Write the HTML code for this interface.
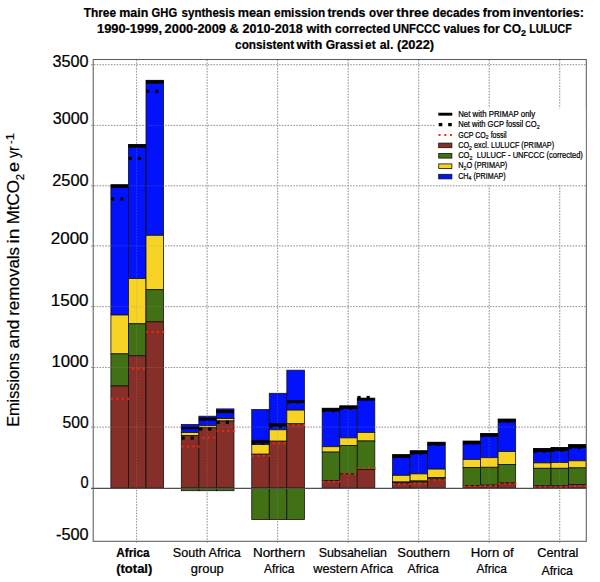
<!DOCTYPE html>
<html><head><meta charset="utf-8"><title>GHG chart</title>
<style>
html,body{margin:0;padding:0;background:#fff;}
body{width:600px;height:582px;position:relative;overflow:hidden;font-family:"Liberation Sans",sans-serif;}
svg{position:absolute;left:0;top:0;}
</style></head><body>
<svg width="600" height="582" viewBox="0 0 600 582">
<rect x="0" y="0" width="600" height="582" fill="#ffffff"/>
<line x1="91" y1="64.7" x2="586.3" y2="64.7" stroke="#979797" stroke-width="1" stroke-dasharray="1.5 1.35"/>
<line x1="91" y1="125.4" x2="586.3" y2="125.4" stroke="#979797" stroke-width="1" stroke-dasharray="1.5 1.35"/>
<line x1="91" y1="185.8" x2="586.3" y2="185.8" stroke="#979797" stroke-width="1" stroke-dasharray="1.5 1.35"/>
<line x1="91" y1="245.9" x2="586.3" y2="245.9" stroke="#979797" stroke-width="1" stroke-dasharray="1.5 1.35"/>
<line x1="91" y1="306.6" x2="586.3" y2="306.6" stroke="#979797" stroke-width="1" stroke-dasharray="1.5 1.35"/>
<line x1="91" y1="367.5" x2="586.3" y2="367.5" stroke="#979797" stroke-width="1" stroke-dasharray="1.5 1.35"/>
<line x1="91" y1="427.1" x2="586.3" y2="427.1" stroke="#979797" stroke-width="1" stroke-dasharray="1.5 1.35"/>
<line x1="136.6" y1="59.5" x2="136.6" y2="543" stroke="#979797" stroke-width="1" stroke-dasharray="1.5 1.35"/>
<line x1="207.12" y1="59.5" x2="207.12" y2="543" stroke="#979797" stroke-width="1" stroke-dasharray="1.5 1.35"/>
<line x1="277.64" y1="59.5" x2="277.64" y2="543" stroke="#979797" stroke-width="1" stroke-dasharray="1.5 1.35"/>
<line x1="348.16" y1="59.5" x2="348.16" y2="543" stroke="#979797" stroke-width="1" stroke-dasharray="1.5 1.35"/>
<line x1="418.68" y1="59.5" x2="418.68" y2="543" stroke="#979797" stroke-width="1" stroke-dasharray="1.5 1.35"/>
<line x1="489.2" y1="59.5" x2="489.2" y2="543" stroke="#979797" stroke-width="1" stroke-dasharray="1.5 1.35"/>
<line x1="559.72" y1="59.5" x2="559.72" y2="543" stroke="#979797" stroke-width="1" stroke-dasharray="1.5 1.35"/>
<rect x="110.9" y="184.7" width="17.55" height="130.3" fill="#0213fb" stroke="#111" stroke-width="0.8"/>
<rect x="110.9" y="315" width="17.55" height="38.9" fill="#f6d324" stroke="#111" stroke-width="0.8"/>
<rect x="110.9" y="353.9" width="17.55" height="32.1" fill="#417114" stroke="#111" stroke-width="0.8"/>
<rect x="110.9" y="386" width="17.55" height="102" fill="#862f29" stroke="#111" stroke-width="0.8"/>
<rect x="128.45" y="144.4" width="17.55" height="134.2" fill="#0213fb" stroke="#111" stroke-width="0.8"/>
<rect x="128.45" y="278.6" width="17.55" height="45.2" fill="#f6d324" stroke="#111" stroke-width="0.8"/>
<rect x="128.45" y="323.8" width="17.55" height="32" fill="#417114" stroke="#111" stroke-width="0.8"/>
<rect x="128.45" y="355.8" width="17.55" height="132.2" fill="#862f29" stroke="#111" stroke-width="0.8"/>
<rect x="146" y="80.3" width="17.55" height="155" fill="#0213fb" stroke="#111" stroke-width="0.8"/>
<rect x="146" y="235.3" width="17.55" height="54.4" fill="#f6d324" stroke="#111" stroke-width="0.8"/>
<rect x="146" y="289.7" width="17.55" height="32.2" fill="#417114" stroke="#111" stroke-width="0.8"/>
<rect x="146" y="321.9" width="17.55" height="166.1" fill="#862f29" stroke="#111" stroke-width="0.8"/>
<rect x="181.32" y="424.5" width="17.55" height="8.1" fill="#0213fb" stroke="#111" stroke-width="0.8"/>
<rect x="181.32" y="432.6" width="17.55" height="2.9" fill="#f6d324" stroke="#111" stroke-width="0.8"/>
<rect x="181.32" y="435.5" width="17.55" height="52.5" fill="#862f29" stroke="#111" stroke-width="0.8"/>
<rect x="181.32" y="488" width="17.55" height="2.7" fill="#417114" stroke="#111" stroke-width="0.8"/>
<rect x="198.87" y="416.2" width="17.55" height="9.5" fill="#0213fb" stroke="#111" stroke-width="0.8"/>
<rect x="198.87" y="425.7" width="17.55" height="2.1" fill="#f6d324" stroke="#111" stroke-width="0.8"/>
<rect x="198.87" y="427.8" width="17.55" height="60.2" fill="#862f29" stroke="#111" stroke-width="0.8"/>
<rect x="198.87" y="488" width="17.55" height="2.7" fill="#417114" stroke="#111" stroke-width="0.8"/>
<rect x="216.42" y="408.9" width="17.55" height="9.7" fill="#0213fb" stroke="#111" stroke-width="0.8"/>
<rect x="216.42" y="418.6" width="17.55" height="2.4" fill="#f6d324" stroke="#111" stroke-width="0.8"/>
<rect x="216.42" y="421" width="17.55" height="67" fill="#862f29" stroke="#111" stroke-width="0.8"/>
<rect x="216.42" y="488" width="17.55" height="2.7" fill="#417114" stroke="#111" stroke-width="0.8"/>
<rect x="251.74" y="409.5" width="17.55" height="35.1" fill="#0213fb" stroke="#111" stroke-width="0.8"/>
<rect x="251.74" y="444.6" width="17.55" height="9.6" fill="#f6d324" stroke="#111" stroke-width="0.8"/>
<rect x="251.74" y="454.2" width="17.55" height="33.8" fill="#862f29" stroke="#111" stroke-width="0.8"/>
<rect x="251.74" y="488" width="17.55" height="31.5" fill="#417114" stroke="#111" stroke-width="0.8"/>
<rect x="269.29" y="393.3" width="17.55" height="36.5" fill="#0213fb" stroke="#111" stroke-width="0.8"/>
<rect x="269.29" y="429.8" width="17.55" height="11.4" fill="#f6d324" stroke="#111" stroke-width="0.8"/>
<rect x="269.29" y="441.2" width="17.55" height="46.8" fill="#862f29" stroke="#111" stroke-width="0.8"/>
<rect x="269.29" y="488" width="17.55" height="31.5" fill="#417114" stroke="#111" stroke-width="0.8"/>
<rect x="286.84" y="370.2" width="17.55" height="39.9" fill="#0213fb" stroke="#111" stroke-width="0.8"/>
<rect x="286.84" y="410.1" width="17.55" height="13.7" fill="#f6d324" stroke="#111" stroke-width="0.8"/>
<rect x="286.84" y="423.8" width="17.55" height="64.2" fill="#862f29" stroke="#111" stroke-width="0.8"/>
<rect x="286.84" y="488" width="17.55" height="31.5" fill="#417114" stroke="#111" stroke-width="0.8"/>
<rect x="322.16" y="408.2" width="17.55" height="38.5" fill="#0213fb" stroke="#111" stroke-width="0.8"/>
<rect x="322.16" y="446.7" width="17.55" height="5.4" fill="#f6d324" stroke="#111" stroke-width="0.8"/>
<rect x="322.16" y="452.1" width="17.55" height="28.4" fill="#417114" stroke="#111" stroke-width="0.8"/>
<rect x="322.16" y="480.5" width="17.55" height="7.5" fill="#862f29" stroke="#111" stroke-width="0.8"/>
<rect x="339.71" y="405.8" width="17.55" height="32.1" fill="#0213fb" stroke="#111" stroke-width="0.8"/>
<rect x="339.71" y="437.9" width="17.55" height="7.5" fill="#f6d324" stroke="#111" stroke-width="0.8"/>
<rect x="339.71" y="445.4" width="17.55" height="28.5" fill="#417114" stroke="#111" stroke-width="0.8"/>
<rect x="339.71" y="473.9" width="17.55" height="14.1" fill="#862f29" stroke="#111" stroke-width="0.8"/>
<rect x="357.26" y="398.1" width="17.55" height="34.3" fill="#0213fb" stroke="#111" stroke-width="0.8"/>
<rect x="357.26" y="432.4" width="17.55" height="8.6" fill="#f6d324" stroke="#111" stroke-width="0.8"/>
<rect x="357.26" y="441" width="17.55" height="28.4" fill="#417114" stroke="#111" stroke-width="0.8"/>
<rect x="357.26" y="469.4" width="17.55" height="18.6" fill="#862f29" stroke="#111" stroke-width="0.8"/>
<rect x="392.58" y="454.6" width="17.55" height="20.7" fill="#0213fb" stroke="#111" stroke-width="0.8"/>
<rect x="392.58" y="475.3" width="17.55" height="6.7" fill="#f6d324" stroke="#111" stroke-width="0.8"/>
<rect x="392.58" y="482" width="17.55" height="1" fill="#417114" stroke="#111" stroke-width="0.8"/>
<rect x="392.58" y="483" width="17.55" height="5" fill="#862f29" stroke="#111" stroke-width="0.8"/>
<rect x="410.13" y="450.7" width="17.55" height="23.2" fill="#0213fb" stroke="#111" stroke-width="0.8"/>
<rect x="410.13" y="473.9" width="17.55" height="7.1" fill="#f6d324" stroke="#111" stroke-width="0.8"/>
<rect x="410.13" y="481" width="17.55" height="1" fill="#417114" stroke="#111" stroke-width="0.8"/>
<rect x="410.13" y="482" width="17.55" height="6" fill="#862f29" stroke="#111" stroke-width="0.8"/>
<rect x="427.68" y="442.2" width="17.55" height="26.9" fill="#0213fb" stroke="#111" stroke-width="0.8"/>
<rect x="427.68" y="469.1" width="17.55" height="8.3" fill="#f6d324" stroke="#111" stroke-width="0.8"/>
<rect x="427.68" y="477.4" width="17.55" height="1.5" fill="#417114" stroke="#111" stroke-width="0.8"/>
<rect x="427.68" y="478.9" width="17.55" height="9.1" fill="#862f29" stroke="#111" stroke-width="0.8"/>
<rect x="463" y="441" width="17.55" height="18.5" fill="#0213fb" stroke="#111" stroke-width="0.8"/>
<rect x="463" y="459.5" width="17.55" height="8.1" fill="#f6d324" stroke="#111" stroke-width="0.8"/>
<rect x="463" y="467.6" width="17.55" height="18" fill="#417114" stroke="#111" stroke-width="0.8"/>
<rect x="463" y="485.6" width="17.55" height="2.4" fill="#862f29" stroke="#111" stroke-width="0.8"/>
<rect x="480.55" y="433.4" width="17.55" height="24.3" fill="#0213fb" stroke="#111" stroke-width="0.8"/>
<rect x="480.55" y="457.7" width="17.55" height="9.6" fill="#f6d324" stroke="#111" stroke-width="0.8"/>
<rect x="480.55" y="467.3" width="17.55" height="17.8" fill="#417114" stroke="#111" stroke-width="0.8"/>
<rect x="480.55" y="485.1" width="17.55" height="2.9" fill="#862f29" stroke="#111" stroke-width="0.8"/>
<rect x="498.1" y="419" width="17.55" height="32.6" fill="#0213fb" stroke="#111" stroke-width="0.8"/>
<rect x="498.1" y="451.6" width="17.55" height="12.8" fill="#f6d324" stroke="#111" stroke-width="0.8"/>
<rect x="498.1" y="464.4" width="17.55" height="18.6" fill="#417114" stroke="#111" stroke-width="0.8"/>
<rect x="498.1" y="483" width="17.55" height="5" fill="#862f29" stroke="#111" stroke-width="0.8"/>
<rect x="533.42" y="448.4" width="17.55" height="14.5" fill="#0213fb" stroke="#111" stroke-width="0.8"/>
<rect x="533.42" y="462.9" width="17.55" height="5.4" fill="#f6d324" stroke="#111" stroke-width="0.8"/>
<rect x="533.42" y="468.3" width="17.55" height="17.5" fill="#417114" stroke="#111" stroke-width="0.8"/>
<rect x="533.42" y="485.8" width="17.55" height="2.2" fill="#862f29" stroke="#111" stroke-width="0.8"/>
<rect x="550.97" y="447.4" width="17.55" height="15" fill="#0213fb" stroke="#111" stroke-width="0.8"/>
<rect x="550.97" y="462.4" width="17.55" height="5.9" fill="#f6d324" stroke="#111" stroke-width="0.8"/>
<rect x="550.97" y="468.3" width="17.55" height="17.5" fill="#417114" stroke="#111" stroke-width="0.8"/>
<rect x="550.97" y="485.8" width="17.55" height="2.2" fill="#862f29" stroke="#111" stroke-width="0.8"/>
<rect x="568.52" y="444.5" width="17.55" height="16.3" fill="#0213fb" stroke="#111" stroke-width="0.8"/>
<rect x="568.52" y="460.8" width="17.55" height="7.1" fill="#f6d324" stroke="#111" stroke-width="0.8"/>
<rect x="568.52" y="467.9" width="17.55" height="16.5" fill="#417114" stroke="#111" stroke-width="0.8"/>
<rect x="568.52" y="484.4" width="17.55" height="3.6" fill="#862f29" stroke="#111" stroke-width="0.8"/>
<g opacity="0.32"><line x1="91" y1="64.7" x2="586.3" y2="64.7" stroke="#979797" stroke-width="1" stroke-dasharray="1.5 1.35"/>
<line x1="91" y1="125.4" x2="586.3" y2="125.4" stroke="#979797" stroke-width="1" stroke-dasharray="1.5 1.35"/>
<line x1="91" y1="185.8" x2="586.3" y2="185.8" stroke="#979797" stroke-width="1" stroke-dasharray="1.5 1.35"/>
<line x1="91" y1="245.9" x2="586.3" y2="245.9" stroke="#979797" stroke-width="1" stroke-dasharray="1.5 1.35"/>
<line x1="91" y1="306.6" x2="586.3" y2="306.6" stroke="#979797" stroke-width="1" stroke-dasharray="1.5 1.35"/>
<line x1="91" y1="367.5" x2="586.3" y2="367.5" stroke="#979797" stroke-width="1" stroke-dasharray="1.5 1.35"/>
<line x1="91" y1="427.1" x2="586.3" y2="427.1" stroke="#979797" stroke-width="1" stroke-dasharray="1.5 1.35"/>
<line x1="136.6" y1="59.5" x2="136.6" y2="543" stroke="#979797" stroke-width="1" stroke-dasharray="1.5 1.35"/>
<line x1="207.12" y1="59.5" x2="207.12" y2="543" stroke="#979797" stroke-width="1" stroke-dasharray="1.5 1.35"/>
<line x1="277.64" y1="59.5" x2="277.64" y2="543" stroke="#979797" stroke-width="1" stroke-dasharray="1.5 1.35"/>
<line x1="348.16" y1="59.5" x2="348.16" y2="543" stroke="#979797" stroke-width="1" stroke-dasharray="1.5 1.35"/>
<line x1="418.68" y1="59.5" x2="418.68" y2="543" stroke="#979797" stroke-width="1" stroke-dasharray="1.5 1.35"/>
<line x1="489.2" y1="59.5" x2="489.2" y2="543" stroke="#979797" stroke-width="1" stroke-dasharray="1.5 1.35"/>
<line x1="559.72" y1="59.5" x2="559.72" y2="543" stroke="#979797" stroke-width="1" stroke-dasharray="1.5 1.35"/></g>
<rect x="110.9" y="184.7" width="17.55" height="3.2" fill="#000"/>
<rect x="111.1" y="197.4" width="3.2" height="3.2" fill="#000"/>
<rect x="120.2" y="197.4" width="3.2" height="3.2" fill="#000"/>
<rect x="111.15" y="397.85" width="1.9" height="1.9" fill="#f02a10"/>
<rect x="116.5" y="397.85" width="1.9" height="1.9" fill="#f02a10"/>
<rect x="121.85" y="397.85" width="1.9" height="1.9" fill="#f02a10"/>
<rect x="127.2" y="397.85" width="1.9" height="1.9" fill="#f02a10"/>
<rect x="128.45" y="144.4" width="17.55" height="3.3" fill="#000"/>
<rect x="128.65" y="156.8" width="3.2" height="3.2" fill="#000"/>
<rect x="137.75" y="156.8" width="3.2" height="3.2" fill="#000"/>
<rect x="132.1" y="367.85" width="1.9" height="1.9" fill="#f02a10"/>
<rect x="137.5" y="367.85" width="1.9" height="1.9" fill="#f02a10"/>
<rect x="142.9" y="367.85" width="1.9" height="1.9" fill="#f02a10"/>
<rect x="146" y="80.3" width="17.55" height="3.4" fill="#000"/>
<rect x="146.2" y="89.7" width="3.2" height="3.2" fill="#000"/>
<rect x="155.3" y="89.7" width="3.2" height="3.2" fill="#000"/>
<rect x="146.25" y="331.05" width="1.9" height="1.9" fill="#f02a10"/>
<rect x="151.6" y="331.05" width="1.9" height="1.9" fill="#f02a10"/>
<rect x="156.95" y="331.05" width="1.9" height="1.9" fill="#f02a10"/>
<rect x="162.3" y="331.05" width="1.9" height="1.9" fill="#f02a10"/>
<rect x="181.32" y="426.7" width="17.55" height="2.6" fill="#000"/>
<rect x="181.52" y="436.4" width="3.2" height="3.2" fill="#000"/>
<rect x="190.62" y="436.4" width="3.2" height="3.2" fill="#000"/>
<rect x="181.57" y="445.55" width="1.9" height="1.9" fill="#f02a10"/>
<rect x="186.92" y="445.55" width="1.9" height="1.9" fill="#f02a10"/>
<rect x="192.27" y="445.55" width="1.9" height="1.9" fill="#f02a10"/>
<rect x="197.62" y="445.55" width="1.9" height="1.9" fill="#f02a10"/>
<rect x="198.87" y="417.6" width="17.55" height="3.1" fill="#000"/>
<rect x="199.07" y="427.4" width="3.2" height="3.2" fill="#000"/>
<rect x="208.17" y="427.4" width="3.2" height="3.2" fill="#000"/>
<rect x="202.52" y="436.75" width="1.9" height="1.9" fill="#f02a10"/>
<rect x="207.92" y="436.75" width="1.9" height="1.9" fill="#f02a10"/>
<rect x="213.32" y="436.75" width="1.9" height="1.9" fill="#f02a10"/>
<rect x="216.42" y="410" width="17.55" height="3.1" fill="#000"/>
<rect x="216.62" y="420.7" width="3.2" height="3.2" fill="#000"/>
<rect x="225.72" y="420.7" width="3.2" height="3.2" fill="#000"/>
<rect x="216.67" y="429.95" width="1.9" height="1.9" fill="#f02a10"/>
<rect x="222.02" y="429.95" width="1.9" height="1.9" fill="#f02a10"/>
<rect x="227.37" y="429.95" width="1.9" height="1.9" fill="#f02a10"/>
<rect x="232.72" y="429.95" width="1.9" height="1.9" fill="#f02a10"/>
<rect x="251.74" y="439.9" width="17.55" height="3.5" fill="#000"/>
<rect x="251.94" y="441.6" width="3.2" height="3.2" fill="#000"/>
<rect x="261.04" y="441.6" width="3.2" height="3.2" fill="#000"/>
<rect x="251.99" y="454.85" width="1.9" height="1.9" fill="#f02a10"/>
<rect x="257.34" y="454.85" width="1.9" height="1.9" fill="#f02a10"/>
<rect x="262.69" y="454.85" width="1.9" height="1.9" fill="#f02a10"/>
<rect x="268.04" y="454.85" width="1.9" height="1.9" fill="#f02a10"/>
<rect x="269.29" y="423.3" width="17.55" height="3.2" fill="#000"/>
<rect x="269.49" y="424.6" width="3.2" height="3.2" fill="#000"/>
<rect x="278.59" y="424.6" width="3.2" height="3.2" fill="#000"/>
<rect x="272.94" y="442.35" width="1.9" height="1.9" fill="#f02a10"/>
<rect x="278.34" y="442.35" width="1.9" height="1.9" fill="#f02a10"/>
<rect x="283.74" y="442.35" width="1.9" height="1.9" fill="#f02a10"/>
<rect x="286.84" y="400.2" width="17.55" height="2.8" fill="#000"/>
<rect x="287.04" y="400.2" width="3.2" height="3.2" fill="#000"/>
<rect x="296.14" y="400.2" width="3.2" height="3.2" fill="#000"/>
<rect x="287.09" y="424.15" width="1.9" height="1.9" fill="#f02a10"/>
<rect x="292.44" y="424.15" width="1.9" height="1.9" fill="#f02a10"/>
<rect x="297.79" y="424.15" width="1.9" height="1.9" fill="#f02a10"/>
<rect x="303.14" y="424.15" width="1.9" height="1.9" fill="#f02a10"/>
<rect x="322.16" y="408.2" width="17.55" height="3.3" fill="#000"/>
<rect x="322.36" y="409" width="3.2" height="3.2" fill="#000"/>
<rect x="331.46" y="409" width="3.2" height="3.2" fill="#000"/>
<rect x="322.41" y="480.65" width="1.9" height="1.9" fill="#f02a10"/>
<rect x="327.76" y="480.65" width="1.9" height="1.9" fill="#f02a10"/>
<rect x="333.11" y="480.65" width="1.9" height="1.9" fill="#f02a10"/>
<rect x="338.46" y="480.65" width="1.9" height="1.9" fill="#f02a10"/>
<rect x="339.71" y="405.8" width="17.55" height="3.1" fill="#000"/>
<rect x="339.91" y="406.4" width="3.2" height="3.2" fill="#000"/>
<rect x="349.01" y="406.4" width="3.2" height="3.2" fill="#000"/>
<rect x="343.36" y="472.95" width="1.9" height="1.9" fill="#f02a10"/>
<rect x="348.76" y="472.95" width="1.9" height="1.9" fill="#f02a10"/>
<rect x="354.16" y="472.95" width="1.9" height="1.9" fill="#f02a10"/>
<rect x="357.26" y="398.1" width="17.55" height="2.6" fill="#000"/>
<rect x="357.46" y="395.9" width="3.2" height="3.2" fill="#000"/>
<rect x="366.56" y="395.9" width="3.2" height="3.2" fill="#000"/>
<rect x="357.51" y="467.15" width="1.9" height="1.9" fill="#f02a10"/>
<rect x="362.86" y="467.15" width="1.9" height="1.9" fill="#f02a10"/>
<rect x="368.21" y="467.15" width="1.9" height="1.9" fill="#f02a10"/>
<rect x="373.56" y="467.15" width="1.9" height="1.9" fill="#f02a10"/>
<rect x="392.58" y="454.6" width="17.55" height="3.3" fill="#000"/>
<rect x="392.78" y="455" width="3.2" height="3.2" fill="#000"/>
<rect x="401.88" y="455" width="3.2" height="3.2" fill="#000"/>
<rect x="392.83" y="483.15" width="1.9" height="1.9" fill="#f02a10"/>
<rect x="398.18" y="483.15" width="1.9" height="1.9" fill="#f02a10"/>
<rect x="403.53" y="483.15" width="1.9" height="1.9" fill="#f02a10"/>
<rect x="408.88" y="483.15" width="1.9" height="1.9" fill="#f02a10"/>
<rect x="410.13" y="450.7" width="17.55" height="3.4" fill="#000"/>
<rect x="410.33" y="451.4" width="3.2" height="3.2" fill="#000"/>
<rect x="419.43" y="451.4" width="3.2" height="3.2" fill="#000"/>
<rect x="413.78" y="482.65" width="1.9" height="1.9" fill="#f02a10"/>
<rect x="419.18" y="482.65" width="1.9" height="1.9" fill="#f02a10"/>
<rect x="424.58" y="482.65" width="1.9" height="1.9" fill="#f02a10"/>
<rect x="427.68" y="442.2" width="17.55" height="3.3" fill="#000"/>
<rect x="427.88" y="442.6" width="3.2" height="3.2" fill="#000"/>
<rect x="436.98" y="442.6" width="3.2" height="3.2" fill="#000"/>
<rect x="427.93" y="478.95" width="1.9" height="1.9" fill="#f02a10"/>
<rect x="433.28" y="478.95" width="1.9" height="1.9" fill="#f02a10"/>
<rect x="438.63" y="478.95" width="1.9" height="1.9" fill="#f02a10"/>
<rect x="443.98" y="478.95" width="1.9" height="1.9" fill="#f02a10"/>
<rect x="463" y="441" width="17.55" height="3.3" fill="#000"/>
<rect x="463.2" y="441.3" width="3.2" height="3.2" fill="#000"/>
<rect x="472.3" y="441.3" width="3.2" height="3.2" fill="#000"/>
<rect x="463.25" y="485.15" width="1.9" height="1.9" fill="#f02a10"/>
<rect x="468.6" y="485.15" width="1.9" height="1.9" fill="#f02a10"/>
<rect x="473.95" y="485.15" width="1.9" height="1.9" fill="#f02a10"/>
<rect x="479.3" y="485.15" width="1.9" height="1.9" fill="#f02a10"/>
<rect x="480.55" y="433.4" width="17.55" height="3.3" fill="#000"/>
<rect x="480.75" y="433.7" width="3.2" height="3.2" fill="#000"/>
<rect x="489.85" y="433.7" width="3.2" height="3.2" fill="#000"/>
<rect x="484.2" y="484.75" width="1.9" height="1.9" fill="#f02a10"/>
<rect x="489.6" y="484.75" width="1.9" height="1.9" fill="#f02a10"/>
<rect x="495" y="484.75" width="1.9" height="1.9" fill="#f02a10"/>
<rect x="498.1" y="419" width="17.55" height="3.4" fill="#000"/>
<rect x="498.3" y="419.4" width="3.2" height="3.2" fill="#000"/>
<rect x="507.4" y="419.4" width="3.2" height="3.2" fill="#000"/>
<rect x="498.35" y="482.55" width="1.9" height="1.9" fill="#f02a10"/>
<rect x="503.7" y="482.55" width="1.9" height="1.9" fill="#f02a10"/>
<rect x="509.05" y="482.55" width="1.9" height="1.9" fill="#f02a10"/>
<rect x="514.4" y="482.55" width="1.9" height="1.9" fill="#f02a10"/>
<rect x="533.42" y="448.4" width="17.55" height="3.6" fill="#000"/>
<rect x="533.62" y="449.6" width="3.2" height="3.2" fill="#000"/>
<rect x="542.72" y="449.6" width="3.2" height="3.2" fill="#000"/>
<rect x="533.67" y="485.75" width="1.9" height="1.9" fill="#f02a10"/>
<rect x="539.02" y="485.75" width="1.9" height="1.9" fill="#f02a10"/>
<rect x="544.37" y="485.75" width="1.9" height="1.9" fill="#f02a10"/>
<rect x="549.72" y="485.75" width="1.9" height="1.9" fill="#f02a10"/>
<rect x="550.97" y="447.4" width="17.55" height="3.6" fill="#000"/>
<rect x="551.17" y="448.6" width="3.2" height="3.2" fill="#000"/>
<rect x="560.27" y="448.6" width="3.2" height="3.2" fill="#000"/>
<rect x="554.62" y="485.75" width="1.9" height="1.9" fill="#f02a10"/>
<rect x="560.02" y="485.75" width="1.9" height="1.9" fill="#f02a10"/>
<rect x="565.42" y="485.75" width="1.9" height="1.9" fill="#f02a10"/>
<rect x="568.52" y="444.5" width="17.55" height="3.7" fill="#000"/>
<rect x="568.72" y="445.8" width="3.2" height="3.2" fill="#000"/>
<rect x="577.82" y="445.8" width="3.2" height="3.2" fill="#000"/>
<rect x="568.77" y="485.15" width="1.9" height="1.9" fill="#f02a10"/>
<rect x="574.12" y="485.15" width="1.9" height="1.9" fill="#f02a10"/>
<rect x="579.47" y="485.15" width="1.9" height="1.9" fill="#f02a10"/>
<rect x="584.82" y="485.15" width="1.9" height="1.9" fill="#f02a10"/>
<line x1="91" y1="488.3" x2="586.3" y2="488.3" stroke="#505050" stroke-width="1.2"/>
<rect x="93.2" y="59.5" width="493.1" height="481.8" fill="none" stroke="#5c5c5c" stroke-width="1.05"/>
<rect x="435" y="108.5" width="150.5" height="75.5" fill="#fff"/>
<rect x="438.3" y="112.75" width="14" height="2.9" fill="#000"/>
<rect x="438.7" y="122.95" width="3.6" height="3.3" fill="#000"/>
<rect x="448.2" y="122.95" width="3.6" height="3.3" fill="#000"/>
<rect x="438.5" y="134" width="2" height="2" fill="#f02a10"/>
<rect x="444.3" y="134" width="2" height="2" fill="#f02a10"/>
<rect x="450" y="134" width="2" height="2" fill="#f02a10"/>
<rect x="438.7" y="143.1" width="13.2" height="4.6" fill="#862f29" stroke="#111" stroke-width="0.8"/>
<rect x="438.7" y="153.5" width="13.2" height="4.6" fill="#417114" stroke="#111" stroke-width="0.8"/>
<rect x="438.7" y="163.9" width="13.2" height="4.6" fill="#f6d324" stroke="#111" stroke-width="0.8"/>
<rect x="438.7" y="174.3" width="13.2" height="4.6" fill="#0213fb" stroke="#111" stroke-width="0.8"/>
</svg>
<svg width="600" height="582" style="position:absolute;left:0;top:0" font-family="Liberation Sans, sans-serif" fill="#000" stroke="#000" stroke-width="0.22"><text x="88.6" y="66.7" font-size="15.6" text-anchor="end" font-weight="normal" textLength="36.1" lengthAdjust="spacingAndGlyphs">3500</text>
<text x="88.6" y="124.4" font-size="15.6" text-anchor="end" font-weight="normal" textLength="35.9" lengthAdjust="spacingAndGlyphs">3000</text>
<text x="88.6" y="186.2" font-size="15.6" text-anchor="end" font-weight="normal" textLength="36.4" lengthAdjust="spacingAndGlyphs">2500</text>
<text x="88.6" y="244.2" font-size="15.6" text-anchor="end" font-weight="normal" textLength="37.9" lengthAdjust="spacingAndGlyphs">2000</text>
<text x="88.6" y="306.2" font-size="15.6" text-anchor="end" font-weight="normal" textLength="37.9" lengthAdjust="spacingAndGlyphs">1500</text>
<text x="88.6" y="367" font-size="15.6" text-anchor="end" font-weight="normal" textLength="37.2" lengthAdjust="spacingAndGlyphs">1000</text>
<text x="88.6" y="427.6" font-size="15.6" text-anchor="end" font-weight="normal" textLength="26.1" lengthAdjust="spacingAndGlyphs">500</text>
<text x="88.6" y="488.3" font-size="15.6" text-anchor="end" font-weight="normal" textLength="8.1" lengthAdjust="spacingAndGlyphs">0</text>
<text x="88.6" y="540.4" font-size="15.6" text-anchor="end" font-weight="normal" textLength="32.6" lengthAdjust="spacingAndGlyphs">-500</text>
<text x="83.68" y="16.8" font-size="12.8" font-weight="bold" textLength="32.39" lengthAdjust="spacingAndGlyphs">Three</text>
<text x="119.19" y="16.8" font-size="12.8" font-weight="bold" textLength="29.07" lengthAdjust="spacingAndGlyphs">main</text>
<text x="151.55" y="16.8" font-size="12.8" font-weight="bold" textLength="25.6" lengthAdjust="spacingAndGlyphs">GHG</text>
<text x="181.6" y="16.8" font-size="12.8" font-weight="bold" textLength="53.32" lengthAdjust="spacingAndGlyphs">synthesis</text>
<text x="237.68" y="16.8" font-size="12.8" font-weight="bold" textLength="33.09" lengthAdjust="spacingAndGlyphs">mean</text>
<text x="274.09" y="16.8" font-size="12.8" font-weight="bold" textLength="51.13" lengthAdjust="spacingAndGlyphs">emission</text>
<text x="327.38" y="16.8" font-size="12.8" font-weight="bold" textLength="38.07" lengthAdjust="spacingAndGlyphs">trends</text>
<text x="369.09" y="16.8" font-size="12.8" font-weight="bold" textLength="24.57" lengthAdjust="spacingAndGlyphs">over</text>
<text x="396.37" y="16.8" font-size="12.8" font-weight="bold" textLength="32.55" lengthAdjust="spacingAndGlyphs">three</text>
<text x="432.53" y="16.8" font-size="12.8" font-weight="bold" textLength="47.4" lengthAdjust="spacingAndGlyphs">decades</text>
<text x="482.81" y="16.8" font-size="12.8" font-weight="bold" textLength="27.93" lengthAdjust="spacingAndGlyphs">from</text>
<text x="512.68" y="16.8" font-size="12.8" font-weight="bold" textLength="71.29" lengthAdjust="spacingAndGlyphs">inventories:</text>
<text x="97.03" y="32.8" font-size="12.8" font-weight="bold" textLength="64.98" lengthAdjust="spacingAndGlyphs">1990-1999,</text>
<text x="164.62" y="32.8" font-size="12.8" font-weight="bold" textLength="61.35" lengthAdjust="spacingAndGlyphs">2000-2009</text>
<text x="229.48" y="32.8" font-size="12.8" font-weight="bold" textLength="9.37" lengthAdjust="spacingAndGlyphs">&amp;</text>
<text x="242.62" y="32.8" font-size="12.8" font-weight="bold" textLength="60.21" lengthAdjust="spacingAndGlyphs">2010-2018</text>
<text x="306.56" y="32.8" font-size="12.8" font-weight="bold" textLength="25.2" lengthAdjust="spacingAndGlyphs">with</text>
<text x="335.08" y="32.8" font-size="12.8" font-weight="bold" textLength="55.22" lengthAdjust="spacingAndGlyphs">corrected</text>
<text x="392.83" y="32.8" font-size="12.8" font-weight="bold" textLength="47.48" lengthAdjust="spacingAndGlyphs">UNFCCC</text>
<text x="443.5" y="32.8" font-size="12.8" font-weight="bold" textLength="36.42" lengthAdjust="spacingAndGlyphs">values</text>
<text x="483.32" y="32.8" font-size="12.8" font-weight="bold" textLength="16.36" lengthAdjust="spacingAndGlyphs">for</text>
<text x="503.02" y="32.8" font-size="12.8" font-weight="bold" textLength="17.93" lengthAdjust="spacingAndGlyphs">CO</text>
<text x="529.21" y="32.8" font-size="12.8" font-weight="bold" textLength="42.47" lengthAdjust="spacingAndGlyphs">LULUCF</text>
<text x="520.93" y="35.6" font-size="9.4" font-weight="bold" textLength="4.99" lengthAdjust="spacingAndGlyphs">2</text>
<text x="235.09" y="49.4" font-size="12.8" font-weight="bold" textLength="59.01" lengthAdjust="spacingAndGlyphs">consistent</text>
<text x="296.56" y="49.4" font-size="12.8" font-weight="bold" textLength="25.72" lengthAdjust="spacingAndGlyphs">with</text>
<text x="325.72" y="49.4" font-size="12.8" font-weight="bold" textLength="37.6" lengthAdjust="spacingAndGlyphs">Grassi</text>
<text x="365.09" y="49.4" font-size="12.8" font-weight="bold" textLength="10.51" lengthAdjust="spacingAndGlyphs">et</text>
<text x="379.69" y="49.4" font-size="12.8" font-weight="bold" textLength="13.64" lengthAdjust="spacingAndGlyphs">al.</text>
<text x="396.92" y="49.4" font-size="12.8" font-weight="bold" textLength="37.2" lengthAdjust="spacingAndGlyphs">(2022)</text>
<text x="116.26" y="557" font-size="12.4" font-weight="bold" textLength="33.43" lengthAdjust="spacingAndGlyphs">Africa</text>
<text x="116.21" y="572.9" font-size="12.4" font-weight="bold" textLength="36.11" lengthAdjust="spacingAndGlyphs">(total)</text>
<text x="172.74" y="557" font-size="12.8" font-weight="normal" textLength="68.11" lengthAdjust="spacingAndGlyphs">South Africa</text>
<text x="190.78" y="572.9" font-size="12.8" font-weight="normal" textLength="33.05" lengthAdjust="spacingAndGlyphs">group</text>
<text x="252.92" y="556.6" font-size="12.8" font-weight="normal" textLength="52.4" lengthAdjust="spacingAndGlyphs">Northern</text>
<text x="264" y="572.8" font-size="12.8" font-weight="normal" textLength="30.45" lengthAdjust="spacingAndGlyphs">Africa</text>
<text x="318.64" y="556.6" font-size="12.8" font-weight="normal" textLength="68.42" lengthAdjust="spacingAndGlyphs">Subsahelian</text>
<text x="313.26" y="572.6" font-size="12.8" font-weight="normal" textLength="79.89" lengthAdjust="spacingAndGlyphs">western Africa</text>
<text x="397.21" y="556.6" font-size="12.8" font-weight="normal" textLength="52.78" lengthAdjust="spacingAndGlyphs">Southern</text>
<text x="407.5" y="572.8" font-size="12.8" font-weight="normal" textLength="31.45" lengthAdjust="spacingAndGlyphs">Africa</text>
<text x="470.75" y="556.6" font-size="12.8" font-weight="normal" textLength="43.02" lengthAdjust="spacingAndGlyphs">Horn of</text>
<text x="476.5" y="572.8" font-size="12.8" font-weight="normal" textLength="30.45" lengthAdjust="spacingAndGlyphs">Africa</text>
<text x="537.37" y="556.6" font-size="12.8" font-weight="normal" textLength="40.92" lengthAdjust="spacingAndGlyphs">Central</text>
<text x="541.5" y="575" font-size="12.8" font-weight="normal" textLength="31.45" lengthAdjust="spacingAndGlyphs">Africa</text>
<text x="458.2" y="117" font-size="8.4" text-anchor="start" font-weight="normal" textLength="77" lengthAdjust="spacingAndGlyphs" fill="#000">Net with PRIMAP only</text>
<text x="458.2" y="127.28" font-size="8.4" text-anchor="start" font-weight="normal" textLength="81.5" lengthAdjust="spacingAndGlyphs" fill="#000">Net with GCP fossil CO<tspan font-size="6" dy="1.8">2</tspan><tspan dy="-1.8"></tspan></text>
<text x="458.2" y="137.56" font-size="8.4" text-anchor="start" font-weight="normal" textLength="48.5" lengthAdjust="spacingAndGlyphs" fill="#000">GCP CO<tspan font-size="6" dy="1.8">2</tspan><tspan dy="-1.8"> fossil</tspan></text>
<text x="458.2" y="147.84" font-size="8.4" text-anchor="start" font-weight="normal" textLength="95.9" lengthAdjust="spacingAndGlyphs" fill="#000">CO<tspan font-size="6" dy="1.8">2</tspan><tspan dy="-1.8"> excl. LULUCF (PRIMAP)</tspan></text>
<text x="458.2" y="158.12" font-size="8.4" text-anchor="start" font-weight="normal" textLength="124.7" lengthAdjust="spacingAndGlyphs" fill="#000">CO<tspan font-size="6" dy="1.8">2</tspan><tspan dy="-1.8">&#160; LULUCF - UNFCCC (corrected)</tspan></text>
<text x="458.2" y="168.4" font-size="8.4" text-anchor="start" font-weight="normal" textLength="49.1" lengthAdjust="spacingAndGlyphs" fill="#000">N<tspan font-size="6" dy="1.8">2</tspan><tspan dy="-1.8">O (PRIMAP)</tspan></text>
<text x="458.2" y="178.68" font-size="8.4" text-anchor="start" font-weight="normal" textLength="47.5" lengthAdjust="spacingAndGlyphs" fill="#000">CH<tspan font-size="6" dy="1.8">4</tspan><tspan dy="-1.8"> (PRIMAP)</tspan></text>
<text transform="translate(19,426.7) rotate(-90)" x="0" y="0" font-size="17.4" textLength="73.86" lengthAdjust="spacingAndGlyphs">Emissions</text>
<text transform="translate(19,348.49) rotate(-90)" x="0" y="0" font-size="17.4" textLength="28.85" lengthAdjust="spacingAndGlyphs">and</text>
<text transform="translate(19,315.8) rotate(-90)" x="0" y="0" font-size="17.4" textLength="68.9" lengthAdjust="spacingAndGlyphs">removals</text>
<text transform="translate(19,243.45) rotate(-90)" x="0" y="0" font-size="17.4" textLength="14.92" lengthAdjust="spacingAndGlyphs">in</text>
<text transform="translate(19,224.36) rotate(-90)" x="0" y="0" font-size="17.4" textLength="44.37" lengthAdjust="spacingAndGlyphs">MtCO</text>
<text transform="translate(23.6,180.37) rotate(-90)" x="0" y="0" font-size="11.5" textLength="6.29" lengthAdjust="spacingAndGlyphs">2</text>
<text transform="translate(19,172.12) rotate(-90)" x="0" y="0" font-size="17.4" textLength="10.07" lengthAdjust="spacingAndGlyphs">e</text>
<text transform="translate(19,158.1) rotate(-90)" x="0" y="0" font-size="17.4" textLength="11.78" lengthAdjust="spacingAndGlyphs">yr</text>
<text transform="translate(13.6,144.03) rotate(-90)" x="0" y="0" font-size="11.5" textLength="3.6" lengthAdjust="spacingAndGlyphs">-</text>
<text transform="translate(13.9,140.17) rotate(-90)" x="0" y="0" font-size="11.5" textLength="7.16" lengthAdjust="spacingAndGlyphs">1</text></svg>
</body></html>
